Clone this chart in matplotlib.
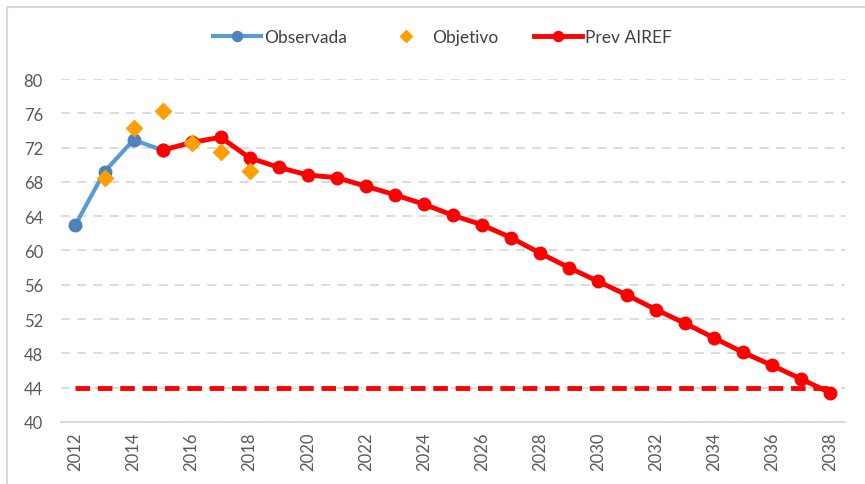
import matplotlib
matplotlib.use("Agg")
from matplotlib import pyplot as plt
from matplotlib.patches import Rectangle

plt.rcParams['font.family'] = ['Lato', 'DejaVu Sans']

years = list(range(2012, 2039))
obs_years = [2012, 2013, 2014, 2015]
observada = [63.0, 69.2, 72.9, 71.7]
obj_years = [2013, 2014, 2015, 2016, 2017, 2018]
objetivo = [68.5, 74.3, 76.3, 72.5, 71.5, 69.3]
prev_years = list(range(2015, 2039))
prev_airef = [71.7, 72.6, 73.2, 70.8, 69.7, 68.8, 68.5, 67.5, 66.5, 65.4,
              64.1, 63.0, 61.5, 59.7, 58.0, 56.4, 54.8, 53.1, 51.5, 49.8,
              48.1, 46.6, 45.0, 43.4]
limite = 44

gray = '#595959'
pos = {y: i for i, y in enumerate(years)}

fig = plt.figure(figsize=(8.65, 4.85), dpi=100)
ax = fig.add_axes([0.0705, 0.128, 0.906, 0.707])

ax.plot([pos[y] for y in years], [limite] * len(years), color='#FF0000',
        lw=3.5, linestyle=(0, (3, 1.6)), zorder=2)
ax.plot([pos[y] for y in obs_years], observada, color='#5B9BD5', lw=3,
        marker='o', markersize=9, markerfacecolor='#4F81BD',
        markeredgecolor='#4F81BD', label='Observada', zorder=3)
ax.plot([pos[y] for y in obj_years], objetivo, linestyle='', marker='D',
        markersize=8, color='#FFA000', label='Objetivo', zorder=5)
ax.plot([pos[y] for y in prev_years], prev_airef, color='#FF0000', lw=3.5,
        marker='o', markersize=9, label='Prev AIREF', zorder=4)

ax.set_xlim(-0.5, len(years) - 0.5)
ax.set_ylim(40, 80)
ax.set_yticks(range(40, 81, 4))
ax.set_xticks([pos[y] for y in years[::2]])
ax.set_xticklabels([str(y) for y in years[::2]], rotation=90)
ax.tick_params(axis='both', length=0, colors=gray, labelsize=12)
ax.tick_params(axis='x', pad=7)
ax.tick_params(axis='y', pad=13)
ax.grid(axis='y', color='#D9D9D9', lw=1.3, linestyle=(0, (5, 4)))
ax.set_axisbelow(True)
for s in ['top', 'right', 'left']:
    ax.spines[s].set_visible(False)
ax.spines['bottom'].set_color('#D9D9D9')
ax.spines['bottom'].set_linewidth(1.3)

leg = fig.legend(loc='center', bbox_to_anchor=(0.511, 0.921), ncol=3,
                 frameon=False, fontsize=12.5, handlelength=2.8,
                 columnspacing=2.0, handletextpad=0.15, markerscale=0.8)
for t in leg.get_texts():
    t.set_color('#404040')

fig.patches.append(Rectangle((7 / 865, -0.1), 1.2, 1 - 8 / 485 + 0.1,
                             transform=fig.transFigure, fill=False,
                             edgecolor='#D9D9D9', lw=1.5))

fig.savefig('out.png')
